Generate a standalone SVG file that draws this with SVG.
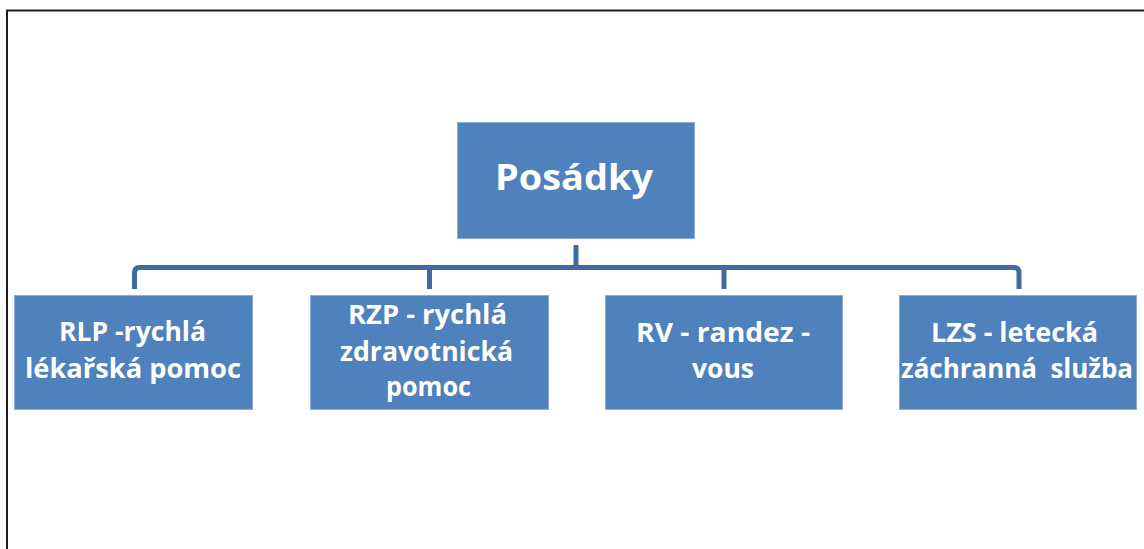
<svg xmlns="http://www.w3.org/2000/svg" width="1144" height="549" viewBox="0 0 1144 549">
<style>
.box{fill:#4F81BD;stroke:#8CAAD6;stroke-width:1}
.t{fill:#FFFFFF;font-family:"Open Sans","Lato","Liberation Sans",sans-serif;font-weight:bold;text-anchor:start}
.c{fill:none;stroke:#3F6C9C;stroke-width:5;stroke-linejoin:round}
.frame{fill:none;stroke:#1E1E1E;stroke-width:2}
</style>
<rect x="0" y="0" width="1144" height="549" fill="#FFFFFF"/>
<path class="frame" d="M7,549 V10.5 H1144"/>
<g id="connectors">
<path class="c" d="M576,245 V267.5"/>
<path class="c" d="M134.5,289 V272.5 Q134.5,267.5 139.5,267.5 H1014 Q1019,267.5 1019,272.5 V289"/>
<path class="c" d="M429.5,267.5 V289"/>
<path class="c" d="M724,267.5 V289"/>
</g>
<g id="posadky">
<rect class="box" x="457.5" y="122.5" width="237" height="116"/>
<text class="t" x="495" y="190" font-size="35" textLength="158" lengthAdjust="spacingAndGlyphs">Posádky</text>
</g>
<g id="rlp">
<rect class="box" x="14.5" y="295.5" width="238" height="114"/>
<text class="t" x="59" y="341" font-size="26" textLength="147" lengthAdjust="spacingAndGlyphs">RLP -rychlá</text>
<text class="t" x="25" y="378" font-size="26" textLength="216" lengthAdjust="spacingAndGlyphs">lékařská pomoc</text>
</g>
<g id="rzp">
<rect class="box" x="310.5" y="295.5" width="238" height="114"/>
<text class="t" x="348" y="324" font-size="26" textLength="159" lengthAdjust="spacingAndGlyphs">RZP - rychlá</text>
<text class="t" x="340" y="361" font-size="26" textLength="173" lengthAdjust="spacingAndGlyphs">zdravotnická</text>
<text class="t" x="386" y="396" font-size="26" textLength="85" lengthAdjust="spacingAndGlyphs">pomoc</text>
</g>
<g id="rv">
<rect class="box" x="605.5" y="295.5" width="237" height="114"/>
<text class="t" x="636" y="342" font-size="26" textLength="174" lengthAdjust="spacingAndGlyphs">RV - randez -</text>
<text class="t" x="692" y="378" font-size="26" textLength="62" lengthAdjust="spacingAndGlyphs">vous</text>
</g>
<g id="lzs">
<rect class="box" x="899.5" y="295.5" width="237" height="114"/>
<text class="t" x="931" y="342" font-size="26" textLength="167" lengthAdjust="spacingAndGlyphs">LZS - letecká</text>
<text class="t" x="901" y="378" font-size="26" textLength="232" lengthAdjust="spacingAndGlyphs" xml:space="preserve">záchranná  služba</text>
</g>
</svg>
